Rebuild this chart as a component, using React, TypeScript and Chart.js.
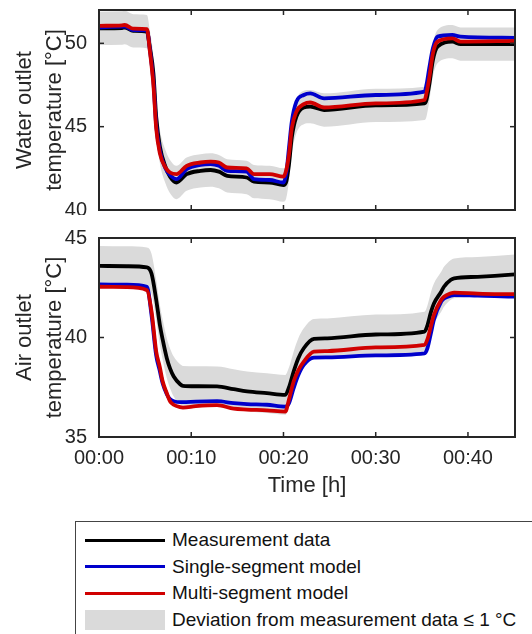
import React, { useEffect, useRef } from "react";
import { Chart, registerables } from "chart.js";

Chart.register(...registerables);

const FONT = "'Liberation Sans', Arial, Helvetica, sans-serif";
const AXIS_COLOR = "#262626";
const BLACK = "#000000";
const BLUE = "#0000cc";
const RED = "#d00000";
const BAND = "#dadada";
const DEVIATION = 1;

const X_MIN = 0;
const X_MAX = 45.1;
const X_TICKS = [0, 10, 20, 30, 40];

// Water outlet temperature (time in minutes)
const WATER_TIME = [0, 2.5, 2.8, 3.7, 5.2, 5.5, 5.9, 6.2, 6.6, 7.2, 7.7, 8.4, 9.5, 11.0, 12.1, 13.0, 13.9, 16.0, 16.8, 18.5, 20.0, 20.3, 20.6, 20.9, 21.4, 22.2, 22.9, 24.4, 30, 35.3, 35.5, 35.8, 36.2, 36.7, 38.3, 39.2, 45.1];
const WATER_MEASURED = [50.9, 50.92, 50.95, 50.75, 50.7, 49.8, 48.2, 45.6, 43.8, 42.6, 42.0, 41.65, 42.15, 42.35, 42.4, 42.3, 42.05, 41.95, 41.7, 41.65, 41.5, 41.7, 42.75, 44.35, 45.6, 46.15, 46.2, 46.0, 46.28, 46.4, 46.6, 47.5, 49.0, 49.8, 50.1, 49.95, 49.95];
const WATER_SINGLE = [50.95, 51.0, 51.0, 50.8, 50.78, 49.7, 47.7, 45.1, 43.55, 42.5, 42.1, 41.85, 42.45, 42.7, 42.75, 42.65, 42.35, 42.3, 41.85, 41.8, 41.65, 42.2, 43.75, 45.3, 46.5, 46.9, 47.0, 46.7, 46.9, 47.1, 47.5, 48.5, 49.7, 50.4, 50.5, 50.4, 50.33];
const WATER_MULTI = [51.05, 51.08, 51.1, 50.88, 50.85, 49.6, 47.5, 44.9, 43.4, 42.55, 42.25, 42.15, 42.65, 42.85, 42.9, 42.85, 42.55, 42.5, 42.15, 42.15, 42.0, 42.4, 43.35, 44.9, 45.9, 46.35, 46.45, 46.15, 46.4, 46.6, 47.0, 47.9, 49.4, 50.1, 50.3, 50.1, 50.15];
const WATER_Y_MIN = 40;
const WATER_Y_MAX = 52;
const WATER_Y_TICKS = [40, 45, 50];

// Air outlet temperature (time in minutes)
const AIR_TIME = [0, 3, 5.2, 5.7, 6.2, 6.6, 6.9, 7.35, 7.7, 8.1, 8.8, 9.1, 10.5, 12.8, 14.6, 16.05, 18.2, 20.2, 20.6, 21.1, 21.6, 22.2, 23.3, 24.75, 30, 35.3, 35.6, 36.0, 36.3, 37.1, 37.4, 38.15, 38.5, 41.05, 42.9, 45.1];
const AIR_MEASURED = [43.6, 43.58, 43.52, 43.2, 41.9, 40.63, 39.9, 38.96, 38.45, 38.04, 37.65, 37.57, 37.55, 37.54, 37.4, 37.29, 37.2, 37.12, 37.5, 38.29, 38.95, 39.46, 39.93, 39.96, 40.15, 40.3, 40.6, 41.3, 41.7, 42.3, 42.55, 42.9, 42.97, 43.05, 43.1, 43.17];
const AIR_SINGLE = [42.67, 42.65, 42.55, 41.1, 39.1, 38.3, 37.7, 37.15, 36.9, 36.8, 36.75, 36.75, 36.78, 36.8, 36.7, 36.65, 36.62, 36.53, 36.7, 37.45, 38.1, 38.62, 38.99, 39.0, 39.1, 39.2, 39.45, 40.25, 40.88, 41.8, 41.96, 42.1, 42.13, 42.1, 42.08, 42.05];
const AIR_MULTI = [42.55, 42.53, 42.38, 41.3, 39.3, 38.5, 37.8, 37.2, 36.8, 36.62, 36.5, 36.48, 36.55, 36.6, 36.42, 36.38, 36.34, 36.28, 36.9, 37.79, 38.35, 38.79, 39.29, 39.32, 39.5, 39.63, 39.9, 40.6, 41.13, 41.9, 42.05, 42.22, 42.26, 42.2, 42.18, 42.18];
const AIR_Y_MIN = 35;
const AIR_Y_MAX = 45;
const AIR_Y_TICKS = [35, 40, 45];

const LEGEND_LABELS = [
  "Measurement data",
  "Single-segment model",
  "Multi-segment model",
  "Deviation from measurement data \u2264 1 \u00B0C",
];
const LEGEND_COLORS = [BLACK, BLUE, RED, BAND];

const framePlugin = {
  id: "frame",
  afterDatasetsDraw(chart: any) {
    const { ctx, chartArea: a, scales } = chart;
    ctx.save();
    ctx.strokeStyle = AXIS_COLOR;
    ctx.lineWidth = 1.5;
    const L = 5;
    const seg = (x1: number, y1: number, x2: number, y2: number) => {
      ctx.beginPath();
      ctx.moveTo(x1, y1);
      ctx.lineTo(x2, y2);
      ctx.stroke();
    };
    scales.x.ticks.forEach((t: any) => {
      const px = scales.x.getPixelForValue(t.value);
      seg(px, a.bottom, px, a.bottom - L);
      seg(px, a.top, px, a.top + L);
    });
    scales.y.ticks.forEach((t: any) => {
      const py = scales.y.getPixelForValue(t.value);
      seg(a.left, py, a.left + L, py);
      seg(a.right, py, a.right - L, py);
    });
    ctx.lineWidth = 2;
    ctx.strokeRect(a.left, a.top, a.right - a.left, a.bottom - a.top);
    ctx.restore();
  },
};

function makeConfig(
  time: number[],
  measured: number[],
  single: number[],
  multi: number[],
  yMin: number,
  yMax: number,
  yTicks: number[],
  yTitle: string[],
  showX: boolean,
  padTop: number,
  xHeight: number
): any {
  const pts = (vals: number[]) => time.map((t, i) => ({ x: t, y: vals[i] }));
  const lower = measured.map((v) => v - DEVIATION);
  const upper = measured.map((v) => v + DEVIATION);
  const lineBase = {
    pointRadius: 0,
    cubicInterpolationMode: "monotone",
    fill: false,
    borderWidth: 3.8,
  };
  return {
    type: "line",
    data: {
      datasets: [
        { ...lineBase, label: "lower", data: pts(lower), borderColor: "rgba(0,0,0,0)", borderWidth: 0, order: 4 },
        { ...lineBase, label: "Deviation", data: pts(upper), borderColor: "rgba(0,0,0,0)", borderWidth: 0, backgroundColor: BAND, fill: "-1", order: 3 },
        { ...lineBase, label: "Measurement data", data: pts(measured), borderColor: BLACK, order: 2 },
        { ...lineBase, label: "Single-segment model", data: pts(single), borderColor: BLUE, order: 1 },
        { ...lineBase, label: "Multi-segment model", data: pts(multi), borderColor: RED, order: 0 },
      ],
    },
    options: {
      responsive: false,
      maintainAspectRatio: false,
      animation: false,
      events: [],
      layout: { padding: { top: padTop, right: 17, left: 0, bottom: 0 } },
      plugins: { legend: { display: false }, tooltip: { enabled: false } },
      scales: {
        x: {
          type: "linear",
          min: X_MIN,
          max: X_MAX,
          grid: { display: false },
          border: { display: false },
          afterBuildTicks: (axis: any) => {
            axis.ticks = X_TICKS.map((v) => ({ value: v }));
          },
          afterFit: (axis: any) => {
            axis.height = xHeight;
            axis.paddingLeft = 0;
            axis.paddingRight = 0;
          },
          ticks: {
            display: showX,
            padding: 1,
            color: AXIS_COLOR,
            font: { family: FONT, size: 20 },
            maxRotation: 0,
            callback: (v: any) => "00:" + String(v).padStart(2, "0"),
          },
          title: {
            display: showX,
            text: "Time [h]",
            color: AXIS_COLOR,
            font: { family: FONT, size: 22 },
            padding: { top: 0, bottom: 6 },
          },
        },
        y: {
          type: "linear",
          min: yMin,
          max: yMax,
          grid: { display: false },
          border: { display: false },
          afterBuildTicks: (axis: any) => {
            axis.ticks = yTicks.map((v) => ({ value: v }));
          },
          afterFit: (axis: any) => {
            axis.width = 99;
            axis.paddingTop = 0;
            axis.paddingBottom = 0;
          },
          ticks: {
            padding: 4,
            color: AXIS_COLOR,
            font: { family: FONT, size: 20 },
          },
          title: {
            display: true,
            text: yTitle,
            color: AXIS_COLOR,
            font: { family: FONT, size: 22, lineHeight: 1.35 },
            padding: { top: 10, bottom: 0 },
          },
        },
      },
    },
    plugins: [framePlugin],
  };
}

export default function App() {
  const topRef = useRef<HTMLCanvasElement | null>(null);
  const bottomRef = useRef<HTMLCanvasElement | null>(null);

  useEffect(() => {
    const c1 = new Chart(
      topRef.current as HTMLCanvasElement,
      makeConfig(WATER_TIME, WATER_MEASURED, WATER_SINGLE, WATER_MULTI, WATER_Y_MIN, WATER_Y_MAX, WATER_Y_TICKS, ["Water outlet", "temperature [\u00B0C]"], false, 10, 5)
    );
    const c2 = new Chart(
      bottomRef.current as HTMLCanvasElement,
      makeConfig(AIR_TIME, AIR_MEASURED, AIR_SINGLE, AIR_MULTI, AIR_Y_MIN, AIR_Y_MAX, AIR_Y_TICKS, ["Air outlet", "temperature [\u00B0C]"], true, 18, 68)
    );
    return () => {
      c1.destroy();
      c2.destroy();
    };
  }, []);

  const rowCenters = [540, 566.5, 593.3, 620];

  return (
    <div style={{ position: "absolute", left: 0, top: 0, width: 532, height: 634, overflow: "hidden", background: "#fff" }}>
      <canvas ref={topRef} width={532} height={215} style={{ position: "absolute", left: 0, top: 0, width: 532, height: 215 }} />
      <canvas ref={bottomRef} width={532} height={285} style={{ position: "absolute", left: 0, top: 220, width: 532, height: 285 }} />
      <div style={{ position: "absolute", left: 75, top: 521, width: 480, height: 140, border: "1px solid #444", boxSizing: "border-box", background: "#fff" }} />
      {LEGEND_LABELS.map((label, i) => (
        <React.Fragment key={label}>
          {i < 3 ? (
            <div style={{ position: "absolute", left: 85, top: rowCenters[i] - 1.5, width: 80, height: 3, background: LEGEND_COLORS[i] }} />
          ) : (
            <div style={{ position: "absolute", left: 85, top: rowCenters[i] - 10, width: 80, height: 20, background: LEGEND_COLORS[i] }} />
          )}
          <div style={{ position: "absolute", left: 172, top: rowCenters[i] - 12, height: 24, lineHeight: "24px", fontFamily: FONT, fontSize: 19, color: "#111", whiteSpace: "nowrap" }}>
            {label}
          </div>
        </React.Fragment>
      ))}
    </div>
  );
}
